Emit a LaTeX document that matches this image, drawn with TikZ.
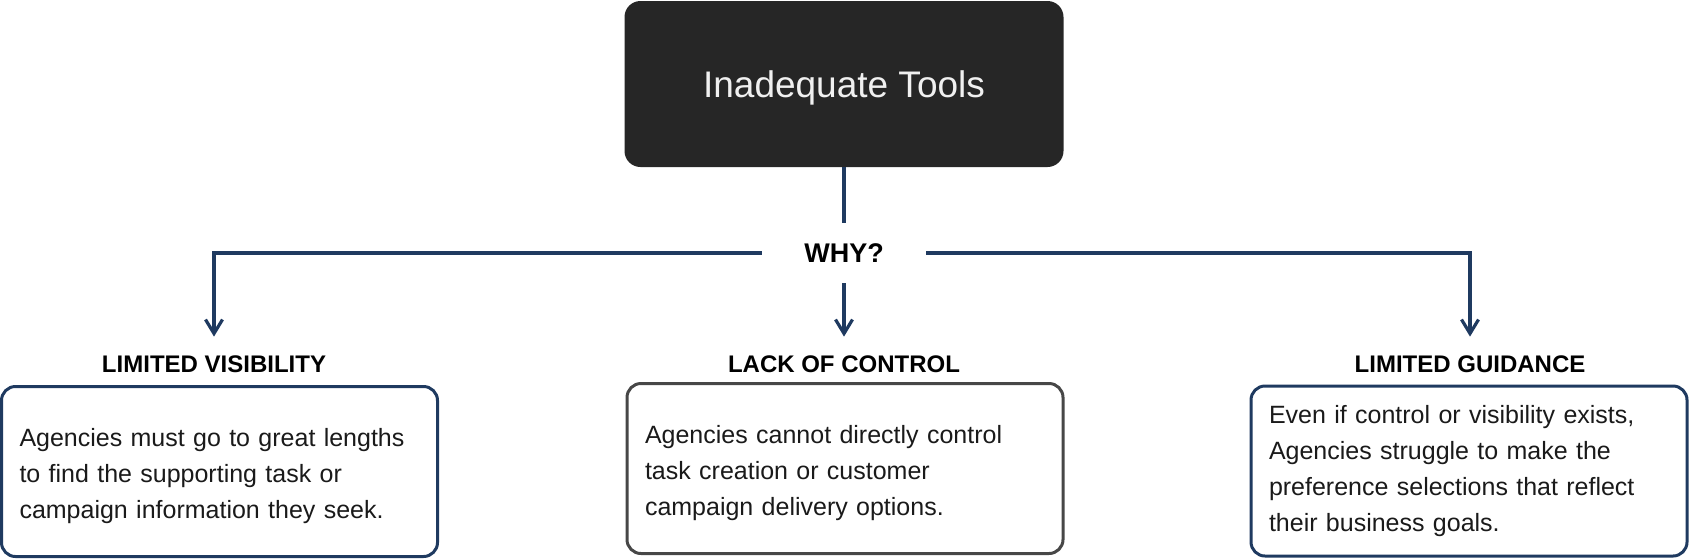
\documentclass[tikz,border=0pt]{standalone}
\usepackage{fontspec}
\setmainfont{Liberation Sans}
\usetikzlibrary{arrows.meta}
\definecolor{navy}{HTML}{1F3A60}
\definecolor{boxgray}{HTML}{474747}
\definecolor{darkfill}{HTML}{262626}
\definecolor{bodytext}{HTML}{1A1A1A}
\newcommand{\lift}{\rule{0pt}{13.5pt}}

\begin{document}
\begin{tikzpicture}[x=0.5pt,y=-0.5pt,
	link/.style={draw=navy, line width=1.6pt},
	pointer/.style={link, -{Straight Barb[length=7pt,width=8.5pt]}},
	heading/.style={font=\fontsize{12}{14}\selectfont\bfseries, text=black, minimum height=27pt, inner sep=0pt},
	reason/.style={rectangle, rounded corners=7pt, line width=1.5pt, minimum width=218pt, minimum height=85pt, text width=200pt, inner xsep=9pt, align=left, font=\fontsize{12.5}{18}\selectfont, text=bodytext}]
	
	\useasboundingbox (0,0) rectangle (1689,558);
	
	\node[fill=darkfill, rounded corners=8pt, minimum width=219.5pt, minimum height=83pt, text depth=0pt, text=white!94!black, font=\fontsize{18.5}{22}\selectfont] (tools) at (844,84) {Inadequate Tools};
	\node[font=\fontsize{13.5}{16}\selectfont\bfseries, minimum width=82pt, minimum height=30pt, inner sep=0pt] (why) at (844,253) {WHY?};
	
	\node[heading] (vis)   at (214,364)  {LIMITED VISIBILITY};
	\node[heading] (ctrl)  at (844,364)  {LACK OF CONTROL};
	\node[heading] (guide) at (1470,364) {LIMITED GUIDANCE};
	
	\node[reason, draw=navy]    (visbox)   at (219.5,471.5) {\lift Agencies must go to great lengths\\to find the supporting task or\\campaign information they seek.};
	\node[reason, draw=boxgray] (ctrlbox)  at (845,468.5)   {\lift Agencies cannot directly control\\task creation or customer\\campaign delivery options.};
	\node[reason, draw=navy]    (guidebox) at (1469,471)    {Even if control or visibility exists,\\Agencies struggle to make the\\preference selections that reflect\\their business goals.};
	
	\draw[link] (tools) -- (why);
	\draw[pointer] (why.west) -| (vis.north);
	\draw[pointer] (why) -- (ctrl);
	\draw[pointer] (why.east) -| (guide.north);
	
\end{tikzpicture}
\end{document}
